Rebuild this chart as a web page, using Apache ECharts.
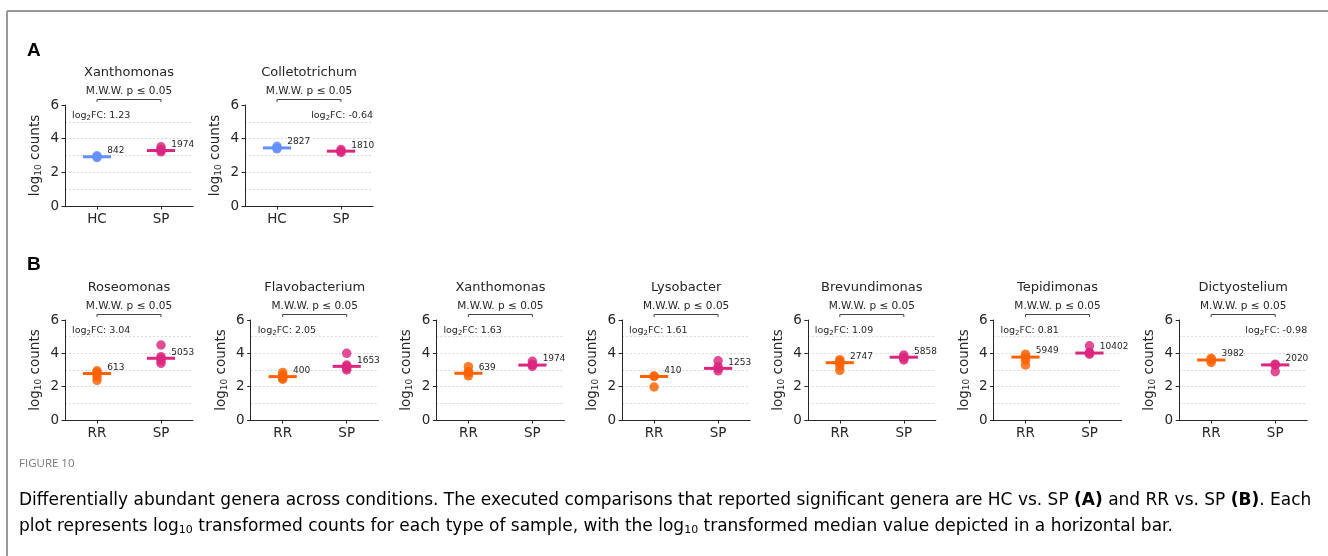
<!DOCTYPE html>
<html>
<head>
<meta charset="utf-8">
<script src="https://cdn.jsdelivr.net/npm/echarts@6/dist/echarts.min.js"></script>
<style>
  html, body { margin: 0; padding: 0; background: #fff; }
  #chart { width: 1328px; height: 556px; }
</style>
</head>
<body>
<div id="chart"></div>
<script>
// ---- Panel A: HC vs. SP ----
const groupsA = ['HC', 'SP'];
const generaA = ['Xanthomonas', 'Colletotrichum'];
const log2fcA = [1.23, -0.64];
const medianCountsA = [[842, 1974], [2827, 1810]];
const pointsA_HC = [[2.98, 2.93, 2.88], [3.55, 3.45, 3.4]];
const pointsA_SP = [[3.52, 3.35, 3.3, 3.22], [3.35, 3.26, 3.18]];

// ---- Panel B: RR vs. SP ----
const groupsB = ['RR', 'SP'];
const generaB = ['Roseomonas', 'Flavobacterium', 'Xanthomonas', 'Lysobacter', 'Brevundimonas', 'Tepidimonas', 'Dictyostelium'];
const log2fcB = [3.04, 2.05, 1.63, 1.61, 1.09, 0.81, -0.98];
const medianCountsB = [[613, 5053], [400, 1653], [639, 1974], [410, 1253], [2747, 5858], [5949, 10402], [3982, 2020]];
const pointsB_RR = [[2.95, 2.85, 2.79, 2.6, 2.38], [2.85, 2.7, 2.6, 2.5, 2.45], [3.2, 2.9, 2.81, 2.65], [2.64, 2.61, 1.98], [3.62, 3.5, 3.44, 3.25, 2.98], [3.95, 3.77, 3.6, 3.3], [3.7, 3.6, 3.45]];
const pointsB_SP = [[4.5, 3.8, 3.7, 3.55, 3.4], [4.0, 3.3, 3.22, 3.1, 3.0], [3.52, 3.35, 3.3, 3.22], [3.55, 3.2, 3.1, 2.95], [3.9, 3.77, 3.7, 3.6], [4.45, 4.05, 4.02, 3.95], [3.35, 3.3, 2.9]];

const yTicks = [0, 2, 4, 6];
const significance = 'M.W.W. p \u2264 0.05';

const groupColors = { HC: '#648FFF', SP: '#DC267F', RR: '#FE6100' };
const FONT = 'DejaVu Sans';
const INK = '#262626';

const chart = echarts.init(document.getElementById('chart'), null, { renderer: 'canvas' });

const grids = [], xAxes = [], yAxes = [], series = [];

function addSubplot(left, top, height, genus, groups, medians, ptsA, ptsB, fc) {
  const idx = grids.length;
  grids.push({ left: left, top: top, width: 128, height: height });
  xAxes.push({
    type: 'category', gridIndex: idx, data: groups, boundaryGap: true,
    axisLine: { lineStyle: { color: INK, width: 1 } },
    axisTick: { show: true, alignWithLabel: true, length: 3.5, lineStyle: { color: INK } },
    axisLabel: { color: INK, fontSize: 13.5, fontFamily: FONT, margin: 6 },
    splitLine: { show: false }
  });
  yAxes.push({
    type: 'value', gridIndex: idx, min: yTicks[0], max: yTicks[yTicks.length - 1], interval: 2,
    name: '{a|log}{s|10}{a| counts}', nameLocation: 'middle', nameGap: 22,
    nameTextStyle: {
      rich: {
        a: { fontSize: 13.5, fontFamily: FONT, color: INK },
        s: { fontSize: 9, fontFamily: FONT, color: INK, padding: [6, 0, 0, 0] }
      }
    },
    axisLine: { show: true, lineStyle: { color: INK, width: 1 } },
    axisTick: { show: true, length: 3.5, lineStyle: { color: INK } },
    axisLabel: { color: INK, fontSize: 13.5, fontFamily: FONT, margin: 6 },
    splitLine: { show: true, showMinLine: false, showMaxLine: false, lineStyle: { color: '#d0d0d0', type: [2, 2], width: 0.8 } },
    minorTick: { show: false, splitNumber: 2 },
    minorSplitLine: { show: true, lineStyle: { color: '#d0d0d0', type: [2, 2], width: 0.8 } }
  });

  // sample points per group
  [ptsA, ptsB].forEach(function (pts, g) {
    series.push({
      type: 'scatter', xAxisIndex: idx, yAxisIndex: idx, z: 3,
      symbol: 'circle', symbolSize: 9.5,
      itemStyle: { color: groupColors[groups[g]], opacity: 0.82 },
      data: pts.map(function (v) { return [g, v]; }),
      silent: true
    });
  });

  // median bars with count labels
  series.push({
    type: 'custom', xAxisIndex: idx, yAxisIndex: idx, z: 2, clip: false, silent: true,
    data: medians.map(function (m, g) { return [g, Math.log10(m), m]; }),
    renderItem: function (params, api) {
      const c = api.coord([api.value(0), api.value(1)]);
      const band = api.size([1, 0])[0];
      const half = band * 0.22;
      const g = api.value(0);
      return {
        type: 'group',
        children: [
          { type: 'line', shape: { x1: c[0] - half, y1: c[1], x2: c[0] + half, y2: c[1] },
            style: { stroke: groupColors[groups[g]], lineWidth: 3 } },
          { type: 'text', x: c[0] + band * 0.16, y: c[1] - 1.5,
            style: { text: String(api.value(2)), fill: INK, font: '9px "' + FONT + '"', textAlign: 'left', textVerticalAlign: 'bottom' },
            z2: 5 }
        ]
      };
    }
  });

  // title, significance bracket and fold change annotation
  series.push({
    type: 'custom', xAxisIndex: idx, yAxisIndex: idx, z: 4, clip: false, silent: true,
    data: [[0, yTicks[yTicks.length - 1], fc]],
    renderItem: function (params, api) {
      const cs = params.coordSys;
      const p0 = api.coord([0, api.value(1)]);
      const p1 = api.coord([1, api.value(1)]);
      const f = api.value(2);
      const by = cs.y - 5.5;
      const fcText = '{a|log}{s|2}{a|FC: ' + f.toFixed(2) + '}';
      return {
        type: 'group',
        children: [
          { type: 'text', x: cs.x + cs.width / 2, y: cs.y - 32,
            style: { text: genus, fill: INK, font: '13px "' + FONT + '"', textAlign: 'center', textVerticalAlign: 'middle' } },
          { type: 'text', x: (p0[0] + p1[0]) / 2, y: cs.y - 13.5,
            style: { text: significance, fill: INK, font: '10.5px "' + FONT + '"', textAlign: 'center', textVerticalAlign: 'middle' } },
          { type: 'polyline', shape: { points: [[p0[0], by + 2.5], [p0[0], by], [p1[0], by], [p1[0], by + 2.5]] },
            style: { stroke: '#444', lineWidth: 1, fill: null } },
          { type: 'text', x: f >= 0 ? cs.x + 7 : cs.x + cs.width, y: cs.y + 10.5,
            style: {
              text: fcText, textAlign: f >= 0 ? 'left' : 'right', textVerticalAlign: 'middle',
              rich: {
                a: { fontSize: 9.5, fontFamily: FONT, fill: INK },
                s: { fontSize: 7, fontFamily: FONT, fill: INK, padding: [5, 0, 0, 0] }
              }
            } }
        ]
      };
    }
  });
}

generaA.forEach(function (genus, i) {
  addSubplot(65 + i * 180, 105, 101, genus, groupsA, medianCountsA[i], pointsA_HC[i], pointsA_SP[i], log2fcA[i]);
});
generaB.forEach(function (genus, i) {
  addSubplot(65 + i * 185.7, 320, 100, genus, groupsB, medianCountsB[i], pointsB_RR[i], pointsB_SP[i], log2fcB[i]);
});

const capFont = '"DejaVu Sans"';
const capColor = '#666';
const capRich = {
  t: { fontSize: 17, fontFamily: capFont, color: capColor },
  b: { fontSize: 17, fontFamily: capFont, color: capColor, fontWeight: 'bold' },
  s: { fontSize: 11, fontFamily: capFont, color: capColor, padding: [7, 0, 0, 0] }
};

const option = {
  animation: false,
  backgroundColor: '#fff',
  grid: grids,
  xAxis: xAxes,
  yAxis: yAxes,
  series: series,
  graphic: [
    { type: 'line', shape: { x1: 7, y1: 11, x2: 1328, y2: 11 }, style: { stroke: '#999', lineWidth: 2 } },
    { type: 'line', shape: { x1: 7, y1: 11, x2: 7, y2: 556 }, style: { stroke: '#999', lineWidth: 2 } },
    { type: 'text', left: 27, top: 41, style: { text: 'A', font: 'bold 19px "Liberation Sans"', fill: '#000' } },
    { type: 'text', left: 27, top: 255, style: { text: 'B', font: 'bold 19px "Liberation Sans"', fill: '#000' } },
    { type: 'text', left: 19, top: 458, style: { text: 'FIGURE 10', font: '11.5px "Open Sans"', fill: '#777' } },
    { type: 'text', left: 19, top: 492, style: {
        text: '{t|Differentially abundant genera across conditions. The executed comparisons that reported significant genera are HC vs. SP }{b|(A)}{t| and RR vs. SP }{b|(B)}{t|. Each}',
        rich: capRich } },
    { type: 'text', left: 19, top: 518, style: {
        text: '{t|plot represents log}{s|10}{t| transformed counts for each type of sample, with the log}{s|10}{t| transformed median value depicted in a horizontal bar.}',
        rich: capRich } }
  ]
};

chart.setOption(option);
</script>
</body>
</html>
